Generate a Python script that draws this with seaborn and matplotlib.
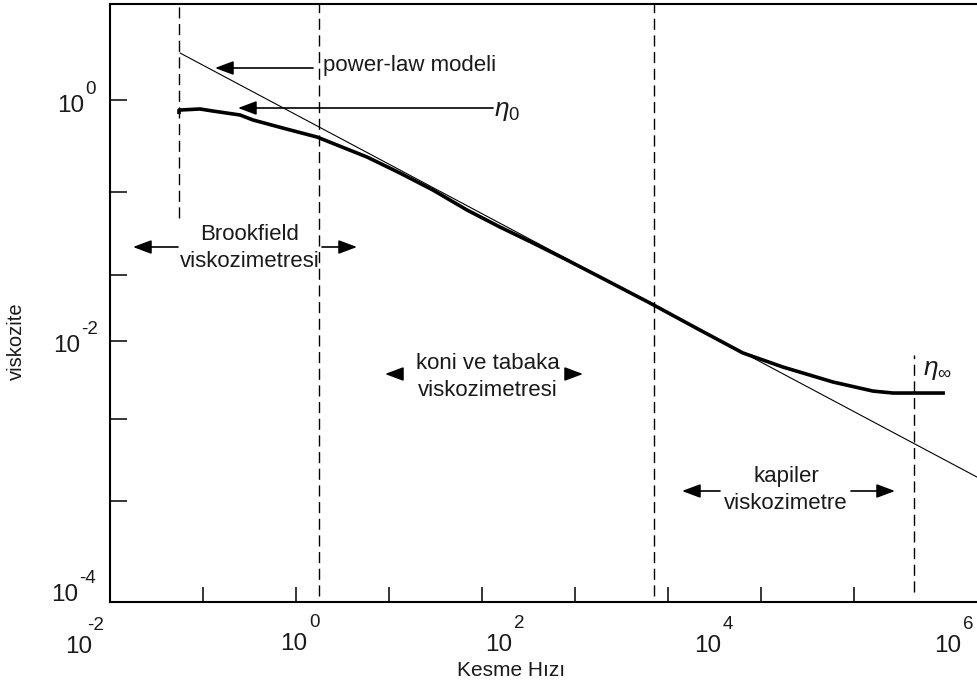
import numpy as np
import pandas as pd
import matplotlib
matplotlib.use("Agg")
import matplotlib.pyplot as plt
from matplotlib.ticker import NullLocator
import seaborn as sns

# ---------------- data (log10 values) ----------------
curve_log_x = [-1.258, -1.258, -1.032, -0.892, -0.602, -0.462, -0.140, 0.226, 0.763,
               1.118, 1.473, 1.839, 2.194, 2.548, 2.914, 3.269, 3.806, 4.344, 4.806,
               5.237, 5.774, 6.204, 6.419, 6.978]
curve_log_y = [-0.115, -0.082, -0.073, -0.090, -0.122, -0.163, -0.229, -0.302, -0.465,
               -0.596, -0.735, -0.898, -1.037, -1.167, -1.306, -1.445, -1.657, -1.878,
               -2.065, -2.180, -2.302, -2.376, -2.392, -2.392]
powerlaw_log_x = [-1.247, 7.323]
powerlaw_log_y = [0.384, -3.078]

divider_log_x = [-1.258, 0.247, 3.849, 6.645]
divider_log_top = [0.784, 0.784, 0.784, -2.082]
divider_log_bottom = [-0.963, -4.05, -4.05, -4.016]

xtick_log = [-1, 0, 1, 2, 3, 4, 5, 6]
ytick_log = [0, -0.75, -1.43, -1.97, -2.6, -3.27]
tick_base = "10"
xtick_exponents = ["-2", "0", "2", "4", "6"]
ytick_exponents = ["0", "-2", "-4"]

x_label = "Kesme Hızı"
y_label = "viskozite"
region_labels = ["Brookfield\nviskozimetresi", "koni ve tabaka\nviskozimetresi",
                 "kapiler\nviskozimetre"]
powerlaw_label = "power-law modeli"
eta0_label = r"$\eta_0$"
etainf_label = r"$\eta_\infty$"

# ---------------- style ----------------
sns.set_theme(style="white")
plt.rcParams["font.family"] = ["Liberation Sans", "DejaVu Sans"]
plt.rcParams["mathtext.fontset"] = "custom"
plt.rcParams["mathtext.rm"] = "Liberation Sans"
plt.rcParams["mathtext.it"] = "Liberation Sans:italic"
plt.rcParams["mathtext.bf"] = "Liberation Sans:bold"
TXT = "#1a1a1a"

W, H = 977, 684
fig = plt.figure(figsize=(W / 100, H / 100), dpi=100)
ax = fig.add_axes([110 / W, (H - 602) / H, (W - 110) / W, 598 / H])


def fp(x, y):
    return (x / W, 1 - y / H)


ax.set_xscale("log")
ax.set_yscale("log")

curve = pd.DataFrame({"x": 10 ** np.array(curve_log_x), "y": 10 ** np.array(curve_log_y)})
power = pd.DataFrame({"x": 10 ** np.array(powerlaw_log_x), "y": 10 ** np.array(powerlaw_log_y)})

sns.lineplot(data=power, x="x", y="y", ax=ax, color="black", lw=0.8,
             sort=False, estimator=None)
sns.lineplot(data=curve, x="x", y="y", ax=ax, color="black", lw=2.6,
             sort=False, estimator=None, solid_capstyle="butt")

ax.vlines(10 ** np.array(divider_log_x), 10 ** np.array(divider_log_bottom),
          10 ** np.array(divider_log_top), colors="black", linewidth=1.0,
          linestyles=[(0, (8, 4))])

ax.set_xlim(10 ** -2, 10 ** 7.323)
ax.set_ylim(10 ** -4.098, 10 ** 0.784)

ax.set_xticks(10 ** np.array(xtick_log, dtype=float))
ax.set_yticks(10 ** np.array(ytick_log, dtype=float))
ax.xaxis.set_minor_locator(NullLocator())
ax.yaxis.set_minor_locator(NullLocator())
ax.set_xticklabels([])
ax.set_yticklabels([])
ax.tick_params(axis="x", direction="in", length=10.5, width=1.1, color="black",
               bottom=True)
ax.tick_params(axis="y", direction="in", length=12.5, width=1.1, color="black",
               left=True)
ax.set_xlabel("")
ax.set_ylabel("")
for side in ["left", "bottom", "top"]:
    ax.spines[side].set_color("black")
    ax.spines[side].set_linewidth(1.5)
ax.spines["right"].set_visible(False)


# tick labels: "10" with a raised exponent
def power_label(right_x, baseline_y, exponent, raise_px, gap):
    fig.text(*fp(right_x, baseline_y), tick_base, ha="right", va="baseline",
             fontsize=17.5, color=TXT)
    fig.text(*fp(right_x + gap, baseline_y - raise_px), exponent, ha="left",
             va="baseline", fontsize=13.5, color=TXT)


for exp_, (rx, by), gap in zip(xtick_exponents,
                               [(92, 653), (307, 650), (512, 651), (721, 652), (961, 652)],
                               [-5, 2, 2, 2, 2]):
    power_label(rx, by, exp_, 23, gap)
for exp_, (rx, by) in zip(ytick_exponents, [(84, 112), (80, 352), (78, 601)]):
    power_label(rx, by, exp_, 18, 1)

fig.text(*fp(511, 670), x_label, ha="center", va="center", fontsize=15, color=TXT)
fig.text(*fp(16, 341), y_label, ha="center", va="center", rotation=90, fontsize=14.5,
         color=TXT)

arrow_kw = dict(arrowstyle="-|>,head_length=0.8,head_width=0.3", color="black",
                lw=1.2, shrinkA=0, shrinkB=0, mutation_scale=14)


def arrow(x0, y0, x1, y1):
    ax.annotate("", xy=fp(x1, y1), xytext=fp(x0, y0), xycoords="figure fraction",
                textcoords="figure fraction", arrowprops=arrow_kw)


# power-law annotation
arrow(313, 68, 215, 68)
fig.text(*fp(323, 66), powerlaw_label, ha="left", va="center", fontsize=16, color=TXT)
# eta0
arrow(493, 108, 238, 108)
fig.text(*fp(494, 111), eta0_label, ha="left", va="center", fontsize=19, color=TXT)
# eta infinity
fig.text(*fp(923, 370), etainf_label, ha="left", va="center", fontsize=19, color=TXT)

# Brookfield
fig.text(*fp(250, 248), region_labels[0], ha="center", va="center", fontsize=16,
         linespacing=1.4, color=TXT)
arrow(178, 247, 133, 247)
arrow(322, 247, 357, 247)
# koni ve tabaka
fig.text(*fp(488, 377), region_labels[1], ha="center", va="center", fontsize=16,
         linespacing=1.4, color=TXT)
arrow(402, 374, 385, 374)
arrow(568, 374, 583, 374)
# kapiler
fig.text(*fp(786, 490), region_labels[2], ha="center", va="center", fontsize=16,
         linespacing=1.4, color=TXT)
arrow(720, 491, 682, 491)
arrow(851, 491, 895, 491)

fig.savefig("out.png", dpi=100)
